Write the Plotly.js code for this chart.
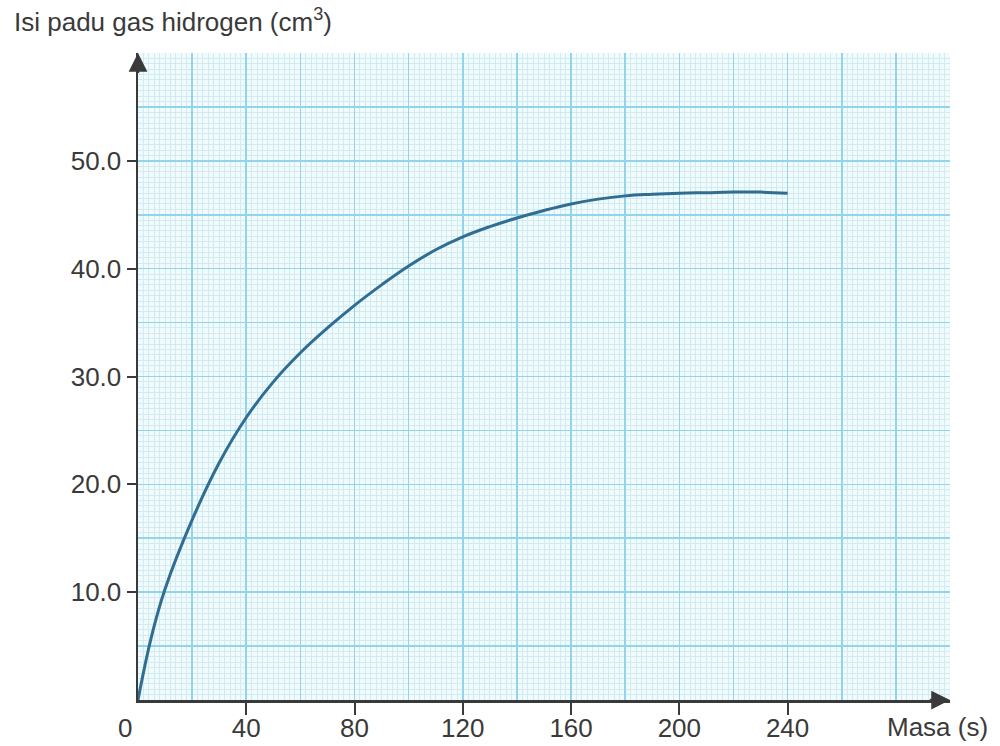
<!DOCTYPE html>
<html>
<head>
<meta charset="utf-8">
<script src="https://cdn.plot.ly/plotly-3.0.1.min.js"></script>
<style>html,body{margin:0;padding:0;background:#fff}#chart{width:1000px;height:746px}</style>
</head>
<body>
<div id="chart"></div>
<script>
// Data
const masa = [0, 5, 10, 20, 30, 40, 50, 60, 70, 80, 90, 100, 110, 120, 130, 140, 150, 160, 170, 180, 190, 200, 210, 220, 230, 240];
const isiPadu = [0, 5.9, 10.3, 16.7, 22.0, 26.2, 29.5, 32.2, 34.5, 36.6, 38.5, 40.25, 41.75, 42.95, 43.9, 44.7, 45.4, 46.0, 46.45, 46.75, 46.9, 47.0, 47.05, 47.1, 47.1, 47.0];
const xTickVals = [40, 80, 120, 160, 200, 240];
const xTickText = ['40', '80', '120', '160', '200', '240'];
const yTickVals = [10, 20, 30, 40, 50];
const yTickText = ['10.0', '20.0', '30.0', '40.0', '50.0'];
const xTitle = 'Masa (s)';
const yTitle = 'Isi padu gas hidrogen (cm<sup>3</sup>)';

const FONT = 'Liberation Sans, Arial, sans-serif';
const INK = '#3a3a3a';
const XR = [0, 300], YR = [0, 60];

const curve = {
  x: masa, y: isiPadu, xaxis: 'x2', yaxis: 'y2',
  type: 'scatter', mode: 'lines',
  line: {color: '#2f6d93', width: 3, shape: 'spline', smoothing: 1.2},
  hoverinfo: 'skip'
};
// invisible companion so the grid subplot is built
const gridHolder = {
  x: masa, y: isiPadu, xaxis: 'x', yaxis: 'y',
  type: 'scatter', mode: 'lines', opacity: 0, line: {width: 0}, hoverinfo: 'skip'
};

const gridAxis = (range, dtick, mdtick) => ({
  range: range, dtick: dtick, tick0: 0,
  showgrid: true, gridcolor: '#93d3ec', gridwidth: 1.6,
  minor: {dtick: mdtick, tick0: 0, showgrid: true, gridcolor: '#d3eaee', gridwidth: 1},
  showticklabels: false, ticks: '', zeroline: false, showline: false, fixedrange: true
});

const layout = {
  width: 1000, height: 746,
  margin: {l: 138, r: 50, t: 53, b: 46},
  paper_bgcolor: '#ffffff', plot_bgcolor: '#effbfd',
  showlegend: false,
  xaxis: gridAxis(XR, 20, 2),
  yaxis: gridAxis(YR, 5, 0.5),
  xaxis2: {
    overlaying: 'x', anchor: 'y2', side: 'bottom', range: XR,
    tickmode: 'array', tickvals: xTickVals, ticktext: xTickText,
    ticks: 'outside', ticklen: 12, tickwidth: 2, tickcolor: INK, ticklabelstandoff: -9,
    showgrid: false, zeroline: false, showline: true, linecolor: INK, linewidth: 2.5,
    tickfont: {family: FONT, size: 26, color: INK}, fixedrange: true
  },
  yaxis2: {
    overlaying: 'y', anchor: 'x2', side: 'left', range: YR,
    tickmode: 'array', tickvals: yTickVals, ticktext: yTickText,
    ticks: 'outside', ticklen: 9, tickwidth: 2, tickcolor: INK,
    showgrid: false, zeroline: false, showline: true, linecolor: INK, linewidth: 2.5,
    tickfont: {family: FONT, size: 26, color: INK}, fixedrange: true
  },
  annotations: [
    {xref: 'x2', yref: 'y2', x: XR[1], y: 0, axref: 'x2', ayref: 'y2', ax: XR[1] - 8, ay: 0,
     showarrow: true, arrowhead: 2, arrowsize: 1.5, arrowwidth: 2.5, arrowcolor: INK, text: ''},
    {xref: 'x2', yref: 'y2', x: 0, y: YR[1], axref: 'x2', ayref: 'y2', ax: 0, ay: YR[1] - 2,
     showarrow: true, arrowhead: 2, arrowsize: 1.5, arrowwidth: 2.5, arrowcolor: INK, text: ''},
    {xref: 'x2', yref: 'y2', x: 0, y: 0, xanchor: 'right', yanchor: 'top', xshift: -4, yshift: -11,
     text: '0', showarrow: false, font: {family: FONT, size: 26, color: INK}},
    {xref: 'paper', yref: 'paper', x: 1.049, y: 0, xanchor: 'right', yanchor: 'top', yshift: -10,
     text: xTitle, showarrow: false, font: {family: FONT, size: 26, color: INK}},
    {xref: 'paper', yref: 'paper', x: -0.155, y: 1, xanchor: 'left', yanchor: 'bottom', yshift: 14,
     text: yTitle, showarrow: false, font: {family: FONT, size: 26, color: INK}}
  ]
};

Plotly.newPlot('chart', [gridHolder, curve], layout, {displayModeBar: false, staticPlot: true});
</script>
</body>
</html>
